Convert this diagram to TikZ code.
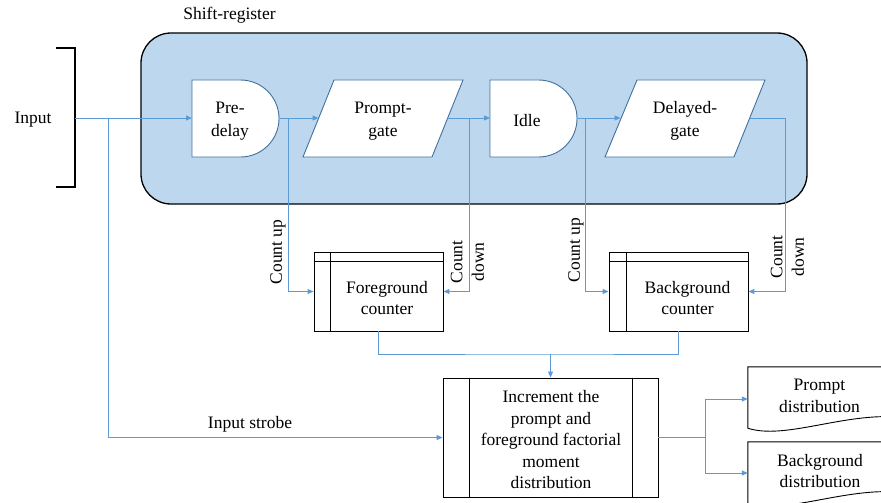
\documentclass[tikz,border=0pt]{standalone}
\usepackage{fontspec}
\setmainfont{Liberation Serif}
\usetikzlibrary{arrows.meta,calc}
\definecolor{regfill}{HTML}{BDD7EE}
\definecolor{shapeline}{HTML}{41719C}
\definecolor{wire}{HTML}{5B9BD5}
\tikzset{
  lbl/.style={inner sep=0pt, align=center, font=\fontsize{17.5pt}{21.5pt}\selectfont},
  gatelbl/.style={inner sep=0pt, align=center, font=\fontsize{17.5pt}{23pt}\selectfont},
  reg/.style={fill=regfill, draw=black, line width=1.3pt, rounded corners=30pt},
  gateshape/.style={fill=white, draw=shapeline, line width=0.9pt},
  boxshape/.style={fill=white, draw=black, line width=0.9pt},
  boxline/.style={draw=black, line width=0.9pt},
  wireline/.style={draw=wire, line width=1pt},
  wirearrow/.style={wireline, -{Triangle[length=6pt,width=5pt]}},
  placeholder/.style={inner sep=0pt, draw=none}
}
\begin{document}
\begin{tikzpicture}[x=1pt,y=-1pt]
\useasboundingbox (0,0) rectangle (881,503);
\clip (0,0) rectangle (881,503);

% shift register container
\node[reg, minimum width=666pt, minimum height=171pt] (shreg) at (474,118.5) {};
\node[lbl] (shreglab) at (229.5,15.5) {Shift-register};

% input bracket and label
\draw[line width=1.3pt] (56,48) -- (75,48) -- (75,187) -- (56,187);
\node[lbl] (inlab) at (33,119.5) {Input};

% pre-delay (delay shape)
\draw[gateshape] (192,80) -- (240.5,80) .. controls (261.8,80) and (279,97.2) .. (279,118.5)
  .. controls (279,139.8) and (261.8,157) .. (240.5,157) -- (192,157) -- cycle;
\node[gatelbl] (pre) at (230,121) {Pre-\\delay};

% prompt gate (parallelogram)
\draw[gateshape] (303,157) -- (334,80) -- (463,80) -- (432,157) -- cycle;
\node[gatelbl] (pg) at (383,121) {Prompt-\\gate};

% idle (delay shape)
\draw[gateshape] (490,80) -- (538.5,80) .. controls (559.8,80) and (577,97.2) .. (577,118.5)
  .. controls (577,139.8) and (559.8,157) .. (538.5,157) -- (490,157) -- cycle;
\node[gatelbl] (idle) at (527,121) {Idle};

% delayed gate (parallelogram)
\draw[gateshape] (605,157) -- (637,80) -- (765,80) -- (734,157) -- cycle;
\node[gatelbl] (dg) at (685,121) {Delayed-\\gate};

% ports on the chain
\coordinate (inL) at (75,118);
\coordinate (preW) at (192,118);
\coordinate (preE) at (279,118);
\coordinate (pgW) at (318.5,118);
\coordinate (pgE) at (447.5,118);
\coordinate (idW) at (490,118);
\coordinate (idE) at (577,118);
\coordinate (dgW) at (620.5,118);
\coordinate (dgE) at (749.5,118);
\coordinate (b0) at (108,118);
\coordinate (b1) at (288,118);
\coordinate (b2) at (469,118);
\coordinate (b3) at (585,118);
\coordinate (b4) at (785,118);

% counters
\node[boxshape, minimum width=129pt, minimum height=79pt] (fg) at (378.5,291.5) {};
\draw[boxline] ([xshift=17pt]fg.north west) -- ([xshift=17pt]fg.south west);
\draw[boxline] ([yshift=-10pt]fg.north west) -- ([yshift=-10pt]fg.north east);
\node[lbl] (fgtext) at (387,298) {Foreground\\counter};

\node[boxshape, minimum width=139pt, minimum height=79pt] (bg) at (678.5,291.5) {};
\draw[boxline] ([xshift=18pt]bg.north west) -- ([xshift=18pt]bg.south west);
\draw[boxline] ([yshift=-10pt]bg.north west) -- ([yshift=-10pt]bg.north east);
\node[lbl] (bgtext) at (687.5,298) {Background\\counter};

% increment process
\node[boxshape, minimum width=215pt, minimum height=119pt] (inc) at (550.5,437.5) {};
\draw[boxline] ([xshift=27pt]inc.north west) -- ([xshift=27pt]inc.south west);
\draw[boxline] ([xshift=-26pt]inc.north east) -- ([xshift=-26pt]inc.south east);
\node[lbl] (inctext) at (551,440) {Increment the\\prompt and\\foreground factorial\\moment\\distribution};

% output documents
\node[placeholder, minimum width=143pt, minimum height=61pt] (pd) at (819.5,397.5) {};
\draw[boxshape] ($(pd.south west)+(152,-11)$) -- ($(pd.north west)+(152,0)$) -- (pd.north west) -- (pd.south west)
  .. controls +(37,12) and +(-55,-5) .. ($(pd.south west)+(152,-11)$);
\node[lbl] (pdtext) at (819.5,396) {Prompt\\distribution};

\node[placeholder, minimum width=143pt, minimum height=61pt] (bd) at (819.5,472.5) {};
\draw[boxshape] ($(bd.south west)+(152,-11)$) -- ($(bd.north west)+(152,0)$) -- (bd.north west) -- (bd.south west)
  .. controls +(37,12) and +(-55,-5) .. ($(bd.south west)+(152,-11)$);
\node[lbl] (bdtext) at (820,471) {Background\\distribution};

% chain connectors
\draw[wirearrow] (inL) -- (preW);
\draw[wirearrow] (preE) -- (pgW);
\draw[wirearrow] (pgE) -- (idW);
\draw[wirearrow] (idE) -- (dgW);
\draw[wireline] (dgE) -- (b4);

% count connectors
\draw[wirearrow] (b1) |- (fg.west);
\draw[wirearrow] (b2) |- (fg.east);
\draw[wirearrow] (b3) |- (bg.west);
\draw[wirearrow] (b4) |- (bg.east);
\node[lbl, rotate=90] (cu1) at (278,252) {Count up};
\node[lbl, rotate=90] (cd1) at (467.5,262) {Count\\down};
\node[lbl, rotate=90] (cu2) at (576,250) {Count up};
\node[lbl, rotate=90] (cd2) at (787.5,257) {Count\\down};

% counters into increment
\coordinate (mrg) at (550.5,354);
\draw[wireline] (fg.south) |- (mrg) -| (bg.south);
\draw[wirearrow] (mrg) -- (inc.north);

% input strobe
\draw[wirearrow] (b0) |- (inc.west);
\node[lbl] (strobe) at (250,424.5) {Input strobe};

% outputs
\coordinate (fork) at (705,437.5);
\draw[wireline, line width=1.6pt] (inc.east) -- (fork);
\draw[wirearrow] (fork) |- (pd.west |- 0,399);
\draw[wirearrow] (fork) |- (bd.west |- 0,473);
\end{tikzpicture}
\end{document}
